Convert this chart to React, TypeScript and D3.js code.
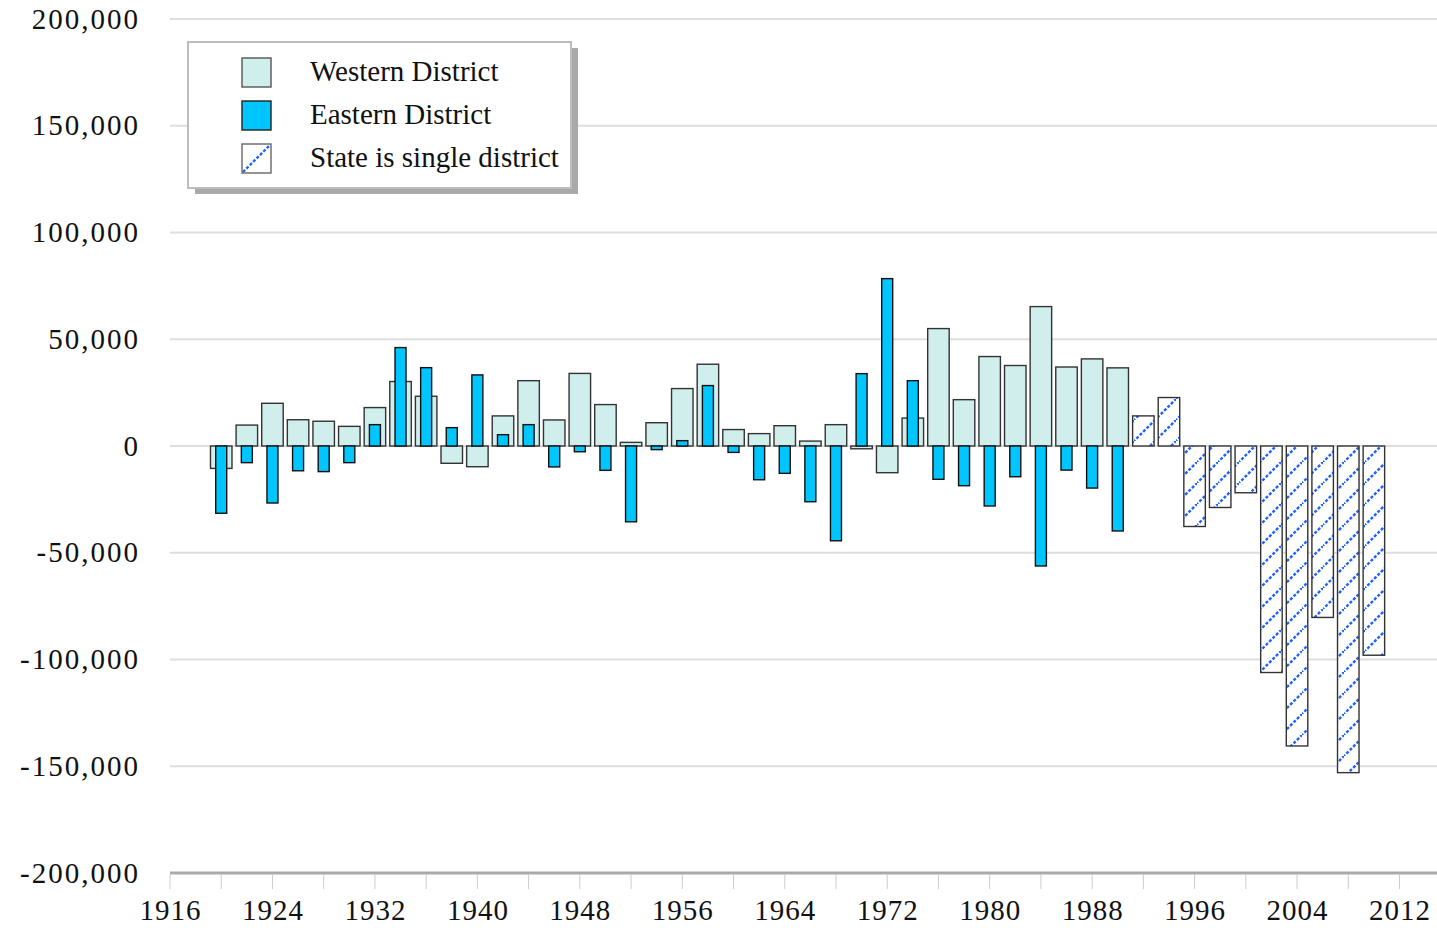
import * as d3 from 'd3';

const years = [
  1920, 1922, 1924, 1926, 1928, 1930, 1932, 1934, 1936, 1938, 1940, 1942,
  1944, 1946, 1948, 1950, 1952, 1954, 1956, 1958, 1960, 1962, 1964, 1966,
  1968, 1970, 1972, 1974, 1976, 1978, 1980, 1982, 1984, 1986, 1988, 1990,
];
const western = [
  -10500, 9800, 20000, 12300, 11600, 9200, 18000, 30200, 23300, -8100, -9700, 14100,
  30600, 12200, 34000, 19400, 1700, 10900, 26900, 38300, 7700, 5800, 9500, 2300,
  10000, -1300, -12500, 13100, 55000, 21700, 41900, 37700, 65300, 37000, 40800, 36600,
];
const eastern = [
  -31500, -7800, -26700, -11600, -12000, -7800, 10000, 46100, 36700, 8600, 33300, 5300,
  10000, -9800, -2700, -11400, -35500, -1700, 2500, 28300, -3000, -15800, -12800, -26100,
  -44400, 33900, 78400, 30600, -15600, -18600, -28100, -14400, -56200, -11300, -19700, -39800,
];
const singleYears = [1992, 1994, 1996, 1998, 2000, 2002, 2004, 2006, 2008, 2010];
const single = [14100, 22700, -37700, -28800, -21900, -106100, -140500, -80300, -153000, -98000];

const yTicks = [200000, 150000, 100000, 50000, 0, -50000, -100000, -150000, -200000];
const xTicks = [
  1916, 1920, 1924, 1928, 1932, 1936, 1940, 1944, 1948, 1952, 1956, 1960, 1964,
  1968, 1972, 1976, 1980, 1984, 1988, 1992, 1996, 2000, 2004, 2008, 2012,
];
const xLabels = [1916, 1924, 1932, 1940, 1948, 1956, 1964, 1972, 1980, 1988, 1996, 2004, 2012];
const legendItems = ['Western District', 'Eastern District', 'State is single district'];

const W = 1437;
const H = 928;
const FONT = '"Liberation Serif", "Times New Roman", serif';
const WEST_FILL = '#cfeeec';
const EAST_FILL = '#00c6ff';
const HATCH = '#1f62ff';

// hyphen instead of unicode minus, like the original
const fmt = (v: number) => (v < 0 ? '-' : '') + d3.format(',')(Math.abs(v));

export default function App() {
  const x = d3.scaleLinear().domain([1916, 2012]).range([170, 1399.5]);
  const y = d3.scaleLinear().domain([-200000, 200000]).range([873, 19]);
  const wideW = 21.5;
  const narrowW = 11;
  const y0 = y(0);

  const barY = (v: number) => Math.min(y(v), y0);
  const barH = (v: number) => Math.max(Math.abs(y(v) - y0), 1);

  return (
    <svg width={W} height={H} style={{ position: 'absolute', left: 0, top: 0, background: '#fff' }}>
      <defs>
        <pattern id="hatch" patternUnits="userSpaceOnUse" width={21} height={21}>
          <line x1={-1} y1={22} x2={22} y2={-1} stroke={HATCH} strokeWidth={2.4} strokeDasharray="3,1.8" />
        </pattern>
      </defs>

      {/* grid */}
      {yTicks.filter((t) => t > -200000).map((t) => (
        <line key={`g${t}`} x1={170} x2={W} y1={y(t)} y2={y(t)} stroke="#dedede" strokeWidth={2} />
      ))}

      {/* y labels */}
      {yTicks.map((t) => (
        <text key={`yl${t}`} x={140} y={y(t)} dy="0.33em" textAnchor="end"
          fontFamily={FONT} fontSize={29} letterSpacing={2} fill="#111">
          {fmt(t)}
        </text>
      ))}

      {/* x axis */}
      <line x1={170} x2={W} y1={873} y2={873} stroke="#aaaaaa" strokeWidth={3} />
      {xTicks.map((t) => (
        <line key={`xt${t}`} x1={x(t)} x2={x(t)} y1={874} y2={889} stroke="#cccccc" strokeWidth={1} />
      ))}
      {xLabels.map((t) => (
        <text key={`xl${t}`} x={x(t) + 0.5} y={920} textAnchor="middle"
          fontFamily={FONT} fontSize={29} letterSpacing={1} fill="#111">
          {t}
        </text>
      ))}

      {/* western */}
      {years.map((yr, i) => (
        <rect key={`w${yr}`} x={x(yr) - wideW / 2} y={barY(western[i])} width={wideW} height={barH(western[i])}
          fill={WEST_FILL} stroke="#333" strokeWidth={1.4} />
      ))}
      {/* eastern */}
      {years.map((yr, i) => (
        <rect key={`e${yr}`} x={x(yr) - narrowW / 2} y={barY(eastern[i])} width={narrowW} height={barH(eastern[i])}
          fill={EAST_FILL} stroke="#111" strokeWidth={1.4} />
      ))}
      {/* single district */}
      {singleYears.map((yr, i) => (
        <g key={`s${yr}`}>
          <rect x={x(yr) - wideW / 2} y={barY(single[i])} width={wideW} height={barH(single[i])} fill="#fff" />
          <rect x={x(yr) - wideW / 2} y={barY(single[i])} width={wideW} height={barH(single[i])}
            fill="url(#hatch)" stroke="#333" strokeWidth={1.4} />
        </g>
      ))}

      {/* legend */}
      <g>
        <rect x={195} y={48} width={383} height={146} fill="#a9a9a9" />
        <rect x={188} y={42} width={383} height={146} fill="#fff" stroke="#bdbdbd" strokeWidth={2} />
        {legendItems.map((label, i) => {
          const sy = 58 + i * 43;
          return (
            <g key={label}>
              {i === 0 && <rect x={242} y={sy} width={29} height={29} fill={WEST_FILL} stroke="#555" strokeWidth={1.4} />}
              {i === 1 && <rect x={242} y={sy} width={29} height={29} fill={EAST_FILL} stroke="#222" strokeWidth={1.4} />}
              {i === 2 && (
                <g>
                  <rect x={242} y={sy} width={29} height={29} fill="#fff" stroke="#666" strokeWidth={1.4} />
                  <line x1={243} y1={sy + 28} x2={270} y2={sy + 1} stroke={HATCH} strokeWidth={2.4} strokeDasharray="3,1.8" />
                </g>
              )}
              <text x={310} y={sy + 23} fontFamily={FONT} fontSize={29} fill="#111">{label}</text>
            </g>
          );
        })}
      </g>
    </svg>
  );
}
